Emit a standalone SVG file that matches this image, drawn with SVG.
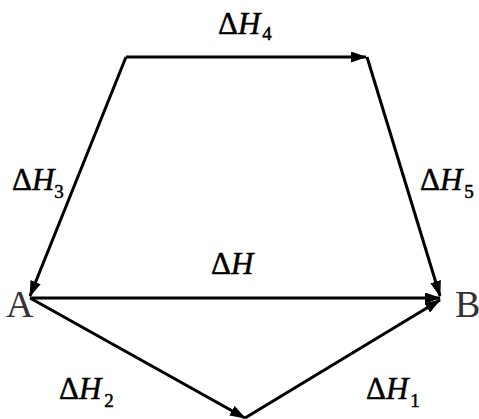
<svg xmlns="http://www.w3.org/2000/svg" width="479" height="419" viewBox="0 0 479 419">
<style>
.ln{stroke:#000;stroke-width:3;fill:none;marker-end:url(#ah)}
.lb{font-family:"Liberation Serif","Times New Roman",serif;font-size:31px;fill:#000;stroke:#000;stroke-width:0.5}
.it{font-style:italic}
.sub{font-size:19px}
.nd{font-family:"Liberation Serif","Times New Roman",serif;font-size:38px;fill:#333}
</style>
<defs>
<marker id="ah" markerUnits="userSpaceOnUse" markerWidth="16" markerHeight="11" refX="15" refY="5.5" orient="auto">
<path d="M0,0 L16,5.5 L0,11 Z" fill="#000"/>
</marker>
</defs>
<rect width="479" height="419" fill="#fff"/>
<g id="connectors">
<path class="ln" d="M126,57 L366,57"/>
<path class="ln" d="M126,57 L30,296"/>
<path class="ln" d="M367,57 L440,296"/>
<path class="ln" d="M30,298 L440,298"/>
<path class="ln" d="M30,298 L245,418"/>
<path class="ln" d="M245,418 L440,300"/>
<text class="lb" x="218" y="34">Δ<tspan class="it">H</tspan><tspan class="sub" dx="2" dy="6">4</tspan></text>
<text class="lb" x="12" y="190">Δ<tspan class="it">H</tspan><tspan class="sub" dx="0" dy="8">3</tspan></text>
<text class="lb" x="420" y="190">Δ<tspan class="it">H</tspan><tspan class="sub" dx="2" dy="8">5</tspan></text>
<text class="lb" x="211" y="274">Δ<tspan class="it">H</tspan></text>
<text class="lb" x="59" y="399">Δ<tspan class="it">H</tspan><tspan class="sub" dx="3" dy="8">2</tspan></text>
<text class="lb" x="366" y="399">Δ<tspan class="it">H</tspan><tspan class="sub" dx="2" dy="8">1</tspan></text>
</g>
<g id="node-A"><text class="nd" x="6" y="317">A</text></g>
<g id="node-B"><text class="nd" x="455" y="317">B</text></g>
</svg>
